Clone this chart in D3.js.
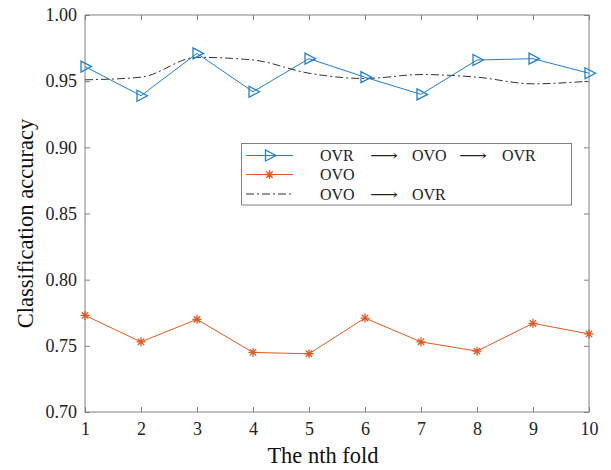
<!DOCTYPE html>
<html><head><meta charset="utf-8">
<script src="https://cdn.jsdelivr.net/npm/d3@7"></script>
<style>body{margin:0;background:#fff}</style>
</head><body>
<svg id="c" width="611" height="470"></svg>
<script>
const folds = [1,2,3,4,5,6,7,8,9,10];
const ovrOvoOvr = [0.961,0.939,0.971,0.942,0.967,0.953,0.940,0.966,0.967,0.956];
const ovo = [0.773,0.753,0.770,0.745,0.744,0.771,0.753,0.746,0.767,0.759];
const ovoOvr = [0.951,0.953,0.968,0.966,0.956,0.952,0.955,0.953,0.948,0.950];
const yTicks = [0.70,0.75,0.80,0.85,0.90,0.95,1.00];
const xLabel = "The nth fold", yLabel = "Classification accuracy";

const svg = d3.select("#c");
const L=85, R=589, T=15, B=412;
const x = d3.scaleLinear().domain([1,10]).range([L,R]);
const y = d3.scaleLinear().domain([0.70,1.00]).range([B,T]);
const axisCol = "#808080", font = "Liberation Serif, Times New Roman, serif";

svg.append("rect").attr("x",L).attr("y",T).attr("width",R-L).attr("height",B-T)
  .attr("fill","none").attr("stroke",axisCol).attr("stroke-width",1);

const gx = svg.append("g").attr("transform",`translate(0,${B})`)
  .call(d3.axisBottom(x).tickValues(folds).tickSize(-5).tickPadding(10).tickFormat(d3.format("d")));
const gxt = svg.append("g").attr("transform",`translate(0,${T})`)
  .call(d3.axisTop(x).tickValues(folds).tickSize(-5).tickFormat(""));
const gy = svg.append("g").attr("transform",`translate(${L},0)`)
  .call(d3.axisLeft(y).tickValues(yTicks).tickSize(-5).tickPadding(8).tickFormat(d3.format(".2f")));
const gyr = svg.append("g").attr("transform",`translate(${R},0)`)
  .call(d3.axisRight(y).tickValues(yTicks).tickSize(-5).tickFormat(""));
[gx,gxt,gy,gyr].forEach(g=>{
  g.select(".domain").remove();
  g.selectAll(".tick line").attr("stroke",axisCol);
  g.selectAll("text").attr("font-family",font).attr("font-size",18).attr("fill","#222");
});

svg.append("text").attr("x",323).attr("y",463).attr("text-anchor","middle")
  .attr("font-family",font).attr("font-size",22.5).attr("fill","#111").text(xLabel);
svg.append("text").attr("transform",`translate(33,${(T+B)/2+10}) rotate(-90)`).attr("text-anchor","middle")
  .attr("font-family",font).attr("font-size",22.5).attr("fill","#111").text(yLabel);

const blue="#1f7fd0", orange="#e05a22", dark="#333";
const line = arr => d3.line().x((d,i)=>x(folds[i])).y(d=>y(d))(arr);
const smooth = arr => d3.line().curve(d3.curveMonotoneX).x((d,i)=>x(folds[i])).y(d=>y(d))(arr);

svg.append("path").attr("d",smooth(ovoOvr)).attr("fill","none").attr("stroke",dark)
  .attr("stroke-width",1).attr("stroke-dasharray","8,3,2,3");
svg.append("path").attr("d",line(ovrOvoOvr)).attr("fill","none").attr("stroke",blue).attr("stroke-width",1);
svg.append("path").attr("d",line(ovo)).attr("fill","none").attr("stroke",orange).attr("stroke-width",1);

const tri = "M-4,-5.5L-4,5.5L6.5,0Z";
const star = "M0,-4.5V4.5M-4.5,0H4.5M-3.2,-3.2L3.2,3.2M-3.2,3.2L3.2,-3.2";
svg.append("g").selectAll("path").data(ovrOvoOvr).join("path")
  .attr("transform",(d,i)=>`translate(${x(folds[i])},${y(d)})`).attr("d",tri)
  .attr("fill","none").attr("stroke",blue).attr("stroke-width",1.3);
svg.append("g").selectAll("path").data(ovo).join("path")
  .attr("transform",(d,i)=>`translate(${x(folds[i])},${y(d)})`).attr("d",star)
  .attr("fill","none").attr("stroke",orange).attr("stroke-width",1.3);

const lg = svg.append("g");
lg.append("rect").attr("x",241.5).attr("y",143.5).attr("width",330).attr("height",61.5)
  .attr("fill","#fff").attr("stroke",axisCol);
const rows = [
  {y:155.5, col:blue, mark:tri, dash:null, parts:["OVR","⟶","OVO","⟶","OVR"]},
  {y:174.5, col:orange, mark:star, dash:null, parts:["OVO"]},
  {y:194, col:dark, mark:null, dash:"8,3,2,3", parts:["OVO","⟶","OVR"]}
];
const px = [320,370,412,459,502];
rows.forEach(r=>{
  lg.append("line").attr("x1",246).attr("x2",293).attr("y1",r.y).attr("y2",r.y)
    .attr("stroke",r.col).attr("stroke-width",1).attr("stroke-dasharray",r.dash);
  if(r.mark) lg.append("path").attr("transform",`translate(269.5,${r.y})`).attr("d",r.mark)
    .attr("fill","none").attr("stroke",r.col).attr("stroke-width",1.3);
  r.parts.forEach((t,i)=>{
    const isArrow = t==="⟶";
    const tx = lg.append("text").attr("x",px[i]).attr("y",r.y+5.5)
      .attr("font-family",isArrow?"DejaVu Serif, DejaVu Sans, serif":font)
      .attr("font-size",16).attr("fill","#222").text(t);
    if(isArrow) tx.attr("textLength",28).attr("lengthAdjust","spacingAndGlyphs");
  });
});
</script>
</body></html>
